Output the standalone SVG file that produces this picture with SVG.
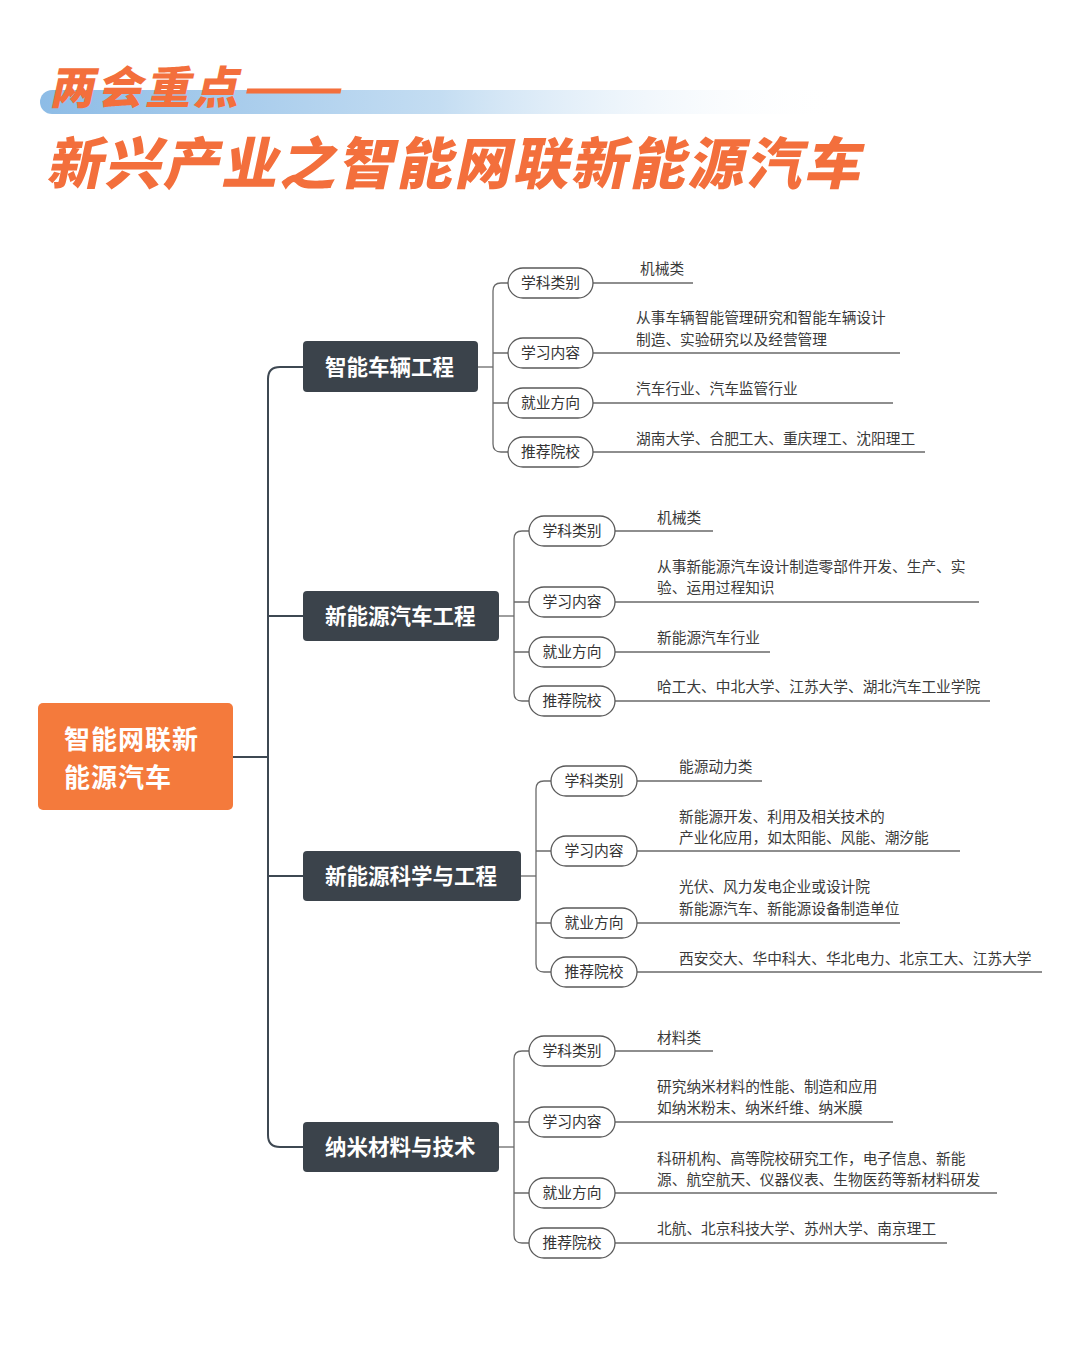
<svg xmlns="http://www.w3.org/2000/svg" width="1080" height="1362" viewBox="0 0 1080 1362">
<defs>
<linearGradient id="bar" x1="0" y1="0" x2="1" y2="0">
<stop offset="0" stop-color="#8DBCE6"/>
<stop offset="0.5" stop-color="#C4DDF2"/>
<stop offset="1" stop-color="#FFFFFF" stop-opacity="0"/>
</linearGradient>
<style>
.title{font-family:"Noto Sans CJK SC","Noto Sans",sans-serif;font-weight:900;fill:#F36F3C}
.root{fill:#F47A3C}
.rootT{font-family:"Noto Sans CJK SC","Noto Sans",sans-serif;font-weight:700;font-size:26px;fill:#FFFFFF}
.br{fill:#3B434B}
.brT{font-family:"Noto Sans CJK SC","Noto Sans",sans-serif;font-weight:700;font-size:21.5px;fill:#FFFFFF}
.pill{fill:#FFFFFF;stroke:#5A5A5A;stroke-width:1.3}
.pillT{font-family:"Noto Sans CJK SC","Noto Sans",sans-serif;font-size:14.8px;fill:#333333;text-anchor:middle}
.leafT{font-family:"Noto Sans CJK SC","Noto Sans",sans-serif;font-size:14.7px;fill:#3A3A3A}
.spine{fill:none;stroke:#3E4852;stroke-width:2}
.sub{fill:none;stroke:#6A6A6A;stroke-width:1.3}
.leaf{fill:none;stroke:#6A6A6A;stroke-width:1.3}
</style>
</defs>
<rect width="1080" height="1362" fill="#FFFFFF"/>

<g id="title">
<rect x="40" y="90" width="800" height="24" rx="12" fill="url(#bar)"/>
<text class="title" font-size="45" letter-spacing="3" transform="translate(49,104) skewX(-12)">两会重点<tspan textLength="104" lengthAdjust="spacingAndGlyphs">——</tspan></text>
<text class="title" font-size="56" letter-spacing="2.3" transform="translate(46,184) skewX(-12)">新兴产业之智能网联新能源汽车</text>
</g>

<g id="connectors">
<path class="spine" d="M233 757 H268"/>
<path class="spine" d="M303 367 H280 Q268 367 268 379 V1135 Q268 1147 280 1147 H303"/>
<path class="spine" d="M268 616 H303"/>
<path class="spine" d="M268 876 H303"/>

<path class="sub" d="M478 367 H493"/>
<path class="sub" d="M508 283 H501 Q493 283 493 291 V444 Q493 452 501 452 H508"/>
<path class="sub" d="M493 353 H508 M493 403 H508"/>
<path class="leaf" d="M593 283 H693 M593 353 H900 M593 403 H893 M593 452 H925"/>

<path class="sub" d="M499 616 H514"/>
<path class="sub" d="M529 531 H522 Q514 531 514 539 V693 Q514 701 522 701 H529"/>
<path class="sub" d="M514 602 H529 M514 652 H529"/>
<path class="leaf" d="M615 531 H713 M615 602 H979 M615 652 H770 M615 701 H990"/>

<path class="sub" d="M521 876 H536"/>
<path class="sub" d="M551 781 H544 Q536 781 536 789 V964 Q536 972 544 972 H551"/>
<path class="sub" d="M536 851 H551 M536 923 H551"/>
<path class="leaf" d="M637 781 H762 M637 851 H960 M637 923 H900 M637 972 H1042"/>

<path class="sub" d="M499 1147 H514"/>
<path class="sub" d="M529 1051 H522 Q514 1051 514 1059 V1235 Q514 1243 522 1243 H529"/>
<path class="sub" d="M514 1122 H529 M514 1193 H529"/>
<path class="leaf" d="M615 1051 H713 M615 1122 H893 M615 1193 H997 M615 1243 H947"/>
</g>

<g id="root">
<rect class="root" x="38" y="703" width="195" height="107" rx="5"/>
<text class="rootT" x="64" y="749" letter-spacing="1">智能网联新</text>
<text class="rootT" x="64" y="787" letter-spacing="1">能源汽车</text>
</g>

<g id="b1">
<rect class="br" x="303" y="341" width="175" height="51" rx="4"/>
<text class="brT" x="325" y="375">智能车辆工程</text>
</g>
<g id="b1-1"><rect class="pill" x="508" y="268" width="85" height="30" rx="15"/><text class="pillT" x="550.5" y="288">学科类别</text><text class="leafT" x="640" y="274">机械类</text></g>
<g id="b1-2"><rect class="pill" x="508" y="338" width="85" height="30" rx="15"/><text class="pillT" x="550.5" y="358">学习内容</text><text class="leafT" x="636" y="323">从事车辆智能管理研究和智能车辆设计</text><text class="leafT" x="636" y="345">制造、实验研究以及经营管理</text></g>
<g id="b1-3"><rect class="pill" x="508" y="388" width="85" height="30" rx="15"/><text class="pillT" x="550.5" y="408">就业方向</text><text class="leafT" x="636" y="394">汽车行业、汽车监管行业</text></g>
<g id="b1-4"><rect class="pill" x="508" y="437" width="85" height="30" rx="15"/><text class="pillT" x="550.5" y="457">推荐院校</text><text class="leafT" x="636" y="444">湖南大学、合肥工大、重庆理工、沈阳理工</text></g>

<g id="b2">
<rect class="br" x="303" y="591" width="196" height="50" rx="4"/>
<text class="brT" x="325" y="624">新能源汽车工程</text>
</g>
<g id="b2-1"><rect class="pill" x="529" y="516" width="86" height="30" rx="15"/><text class="pillT" x="572" y="536">学科类别</text><text class="leafT" x="657" y="523">机械类</text></g>
<g id="b2-2"><rect class="pill" x="529" y="587" width="86" height="30" rx="15"/><text class="pillT" x="572" y="607">学习内容</text><text class="leafT" x="657" y="572">从事新能源汽车设计制造零部件开发、生产、实</text><text class="leafT" x="657" y="593">验、运用过程知识</text></g>
<g id="b2-3"><rect class="pill" x="529" y="637" width="86" height="30" rx="15"/><text class="pillT" x="572" y="657">就业方向</text><text class="leafT" x="657" y="643">新能源汽车行业</text></g>
<g id="b2-4"><rect class="pill" x="529" y="686" width="86" height="30" rx="15"/><text class="pillT" x="572" y="706">推荐院校</text><text class="leafT" x="657" y="692">哈工大、中北大学、江苏大学、湖北汽车工业学院</text></g>

<g id="b3">
<rect class="br" x="303" y="851" width="218" height="50" rx="4"/>
<text class="brT" x="325" y="884">新能源科学与工程</text>
</g>
<g id="b3-1"><rect class="pill" x="551" y="766" width="86" height="30" rx="15"/><text class="pillT" x="594" y="786">学科类别</text><text class="leafT" x="679" y="772">能源动力类</text></g>
<g id="b3-2"><rect class="pill" x="551" y="836" width="86" height="30" rx="15"/><text class="pillT" x="594" y="856">学习内容</text><text class="leafT" x="679" y="822">新能源开发、利用及相关技术的</text><text class="leafT" x="679" y="843">产业化应用，如太阳能、风能、潮汐能</text></g>
<g id="b3-3"><rect class="pill" x="551" y="908" width="86" height="30" rx="15"/><text class="pillT" x="594" y="928">就业方向</text><text class="leafT" x="679" y="892">光伏、风力发电企业或设计院</text><text class="leafT" x="679" y="914">新能源汽车、新能源设备制造单位</text></g>
<g id="b3-4"><rect class="pill" x="551" y="957" width="86" height="30" rx="15"/><text class="pillT" x="594" y="977">推荐院校</text><text class="leafT" x="679" y="964">西安交大、华中科大、华北电力、北京工大、江苏大学</text></g>

<g id="b4">
<rect class="br" x="303" y="1122" width="196" height="50" rx="4"/>
<text class="brT" x="325" y="1155">纳米材料与技术</text>
</g>
<g id="b4-1"><rect class="pill" x="529" y="1036" width="86" height="30" rx="15"/><text class="pillT" x="572" y="1056">学科类别</text><text class="leafT" x="657" y="1043">材料类</text></g>
<g id="b4-2"><rect class="pill" x="529" y="1107" width="86" height="30" rx="15"/><text class="pillT" x="572" y="1127">学习内容</text><text class="leafT" x="657" y="1092">研究纳米材料的性能、制造和应用</text><text class="leafT" x="657" y="1113">如纳米粉末、纳米纤维、纳米膜</text></g>
<g id="b4-3"><rect class="pill" x="529" y="1178" width="86" height="30" rx="15"/><text class="pillT" x="572" y="1198">就业方向</text><text class="leafT" x="657" y="1164">科研机构、高等院校研究工作，电子信息、新能</text><text class="leafT" x="657" y="1185">源、航空航天、仪器仪表、生物医药等新材料研发</text></g>
<g id="b4-4"><rect class="pill" x="529" y="1228" width="86" height="30" rx="15"/><text class="pillT" x="572" y="1248">推荐院校</text><text class="leafT" x="657" y="1234">北航、北京科技大学、苏州大学、南京理工</text></g>
</svg>
